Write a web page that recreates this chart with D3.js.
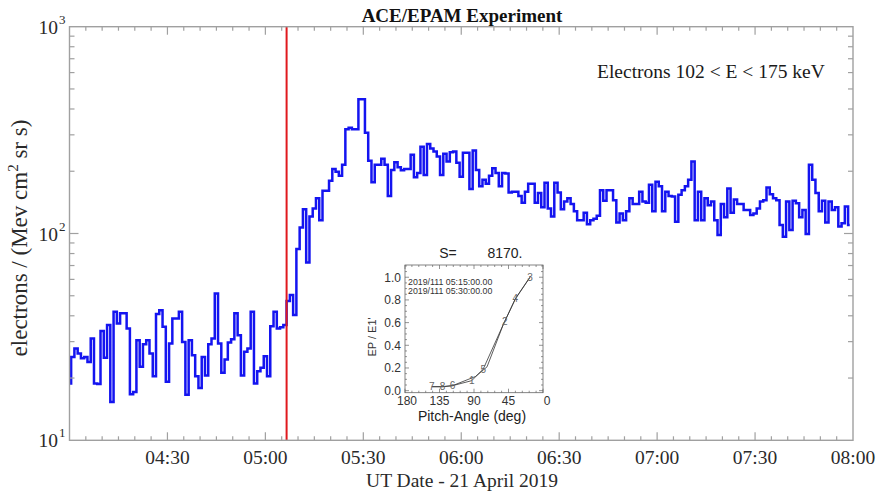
<!DOCTYPE html>
<html><head><meta charset="utf-8">
<script src="https://cdn.jsdelivr.net/npm/d3@7"></script>
<style>body{margin:0;background:#fff}svg{display:block}</style>
</head><body><svg id="c" width="876" height="492"></svg>
<script>
// ---------- data ----------
const chartTitle = "ACE/EPAM Experiment";
const channelLabel = "Electrons 102 < E < 175 keV";
const xAxisTitle = "UT Date - 21 April 2019";
const xTickLabels = ["04:30","05:00","05:30","06:00","06:30","07:00","07:30","08:00"];
const yTickExponents = [1, 2, 3];
const startTime = "2019-04-21T04:00:00Z";
const endTime = "2019-04-21T08:00:00Z";
const eventTime = "2019-04-21T05:06:30Z";
// 1-minute fluxes, electrons/(MeV cm2 sr s), starting 04:00 UT
const fluxPreEvent = [18.8,
 25.3, 27.8, 26.3, 24.9, 25.3, 23.9, 31.1, 18.8, 18.7, 33.8,
 25.1, 36.1, 15.3, 41.8, 36.7, 41.1, 41.1, 34.7, 16.7, 17.1,
 30.5, 22.7, 29.1, 30.5, 26.3, 20.4, 40.8, 42.6, 35.4, 19.2,
 29.4, 38.8, 38.8, 41.8, 29.9, 16.6, 30.5, 25.8, 20.4, 17.9,
 25.3, 20.6, 29.1, 31.1, 51.3, 29.4, 21.2, 24.6, 29.7, 30.8,
 41.1, 32.2, 20.6, 26.8, 27.8, 41.8, 18.8, 21.6, 22.4, 25.5,
 20.4, 35.6, 41.8, 34.7, 35.2, 36.1];
const fluxRise = [47.1, 50.4, 40.3, 84.1, 107, 131, 72.5, 121, 132, 148,
 116, 161, 161, 180, 205, 199, 190, 215, 319, 325, 319, 319, 446, 446, 307];
const fluxDecay = [
 225, 177, 215, 215, 230, 215, 152, 203, 221, 209,
 202, 205, 205, 240, 187, 196, 263, 192, 271, 258,
 249, 236, 192, 243, 223, 247, 249, 220, 188, 246,
 246, 164, 252, 203, 169, 182, 174, 190, 207, 196,
 169, 196, 195, 158, 159, 159, 152, 141, 159, 174,
 174, 141, 157, 134, 176, 132, 121, 176, 158, 131,
 143, 148, 139, 128, 116, 116, 126, 111, 116, 118,
 122, 162, 144, 162, 162, 145, 113, 125, 116, 128,
 148, 139, 139, 159, 143, 141, 172, 128, 178, 169,
 128, 159, 152, 151, 114, 154, 162, 169, 182, 223,
 116, 159, 116, 148, 137, 143, 116, 98.3, 139, 120,
 165, 126, 146, 139, 139, 130, 130, 123, 125, 132,
 143, 145, 167, 155, 148, 145, 110, 96.5, 143, 104,
 144, 140, 120, 130, 99.5, 215, 182, 157, 128, 144,
 113, 143, 130, 134, 108, 112, 135, 110];

// inset (pitch-angle distribution)
const insetTitle = ["S=", "8170."];
const insetDates = ["2019/111 05:15:00.00", "2019/111 05:30:00.00"];
const pitchTicks = [180, 135, 90, 45, 0];
const ratioTicks = [0.0, 0.2, 0.4, 0.6, 0.8, 1.0];
const sectorIds = [7, 8, 6, 1, 5, 2, 4, 3];
const pitchA = [145, 131, 118, 93, 78, 50, 36, 17];
const ratioA = [0.035, 0.035, 0.044, 0.088, 0.19, 0.61, 0.81, 1.0];
const pitchB = [145, 131, 118, 88, 73, 52, 36, 17];
const ratioB = [0.035, 0.035, 0.044, 0.125, 0.21, 0.58, 0.81, 1.0];

// ---------- drawing ----------
const svg = d3.select("#c");
svg.append("rect").attr("width",876).attr("height",492).attr("fill","#fff");
const SERIF = "'Liberation Serif','Times New Roman',serif";
const SANS = "'Liberation Sans',Arial,sans-serif";
const L = 69.5, R = 853, T = 26.7, B = 440.3;
const axisCol = "#a0a0a0";

const x = d3.scaleUtc().domain([new Date(startTime), new Date(endTime)]).range([L, R]);
const y = d3.scaleLog().domain([10, 1000]).range([B, T]);

const flux = fluxPreEvent.concat(fluxRise, fluxDecay);
const t0 = new Date(startTime).getTime();
const series = flux.map((v, i) => ({t: new Date(t0 + i * 60000), v}));

svg.append("clipPath").attr("id","pc").append("rect")
  .attr("x",L).attr("y",T).attr("width",R-L).attr("height",B-T);

// data line
svg.append("path").datum(series)
  .attr("clip-path","url(#pc)")
  .attr("fill","none").attr("stroke","#1414f0").attr("stroke-width",2.5)
  .attr("stroke-linejoin","miter")
  .attr("d", d3.line().x(d => x(d.t)).y(d => y(d.v)).curve(d3.curveStep));

// red event line
const ex = x(new Date(eventTime));
svg.append("line").attr("x1",ex).attr("x2",ex).attr("y1",T).attr("y2",B)
  .attr("stroke","#e0191e").attr("stroke-width",2);

// frame
svg.append("rect").attr("x",L).attr("y",T).attr("width",R-L).attr("height",B-T)
  .attr("fill","none").attr("stroke",axisCol).attr("stroke-width",1.4);

// x ticks (every 5 min, major every 30 min)
const xt = d3.utcMinute.every(5).range(new Date(t0 + 60000), new Date(endTime));
const tg = svg.append("g").attr("stroke",axisCol).attr("stroke-width",1.2);
xt.forEach(d => {
  const major = d.getUTCMinutes() % 30 === 0;
  const len = major ? 8 : 4;
  const px = x(d);
  tg.append("line").attr("x1",px).attr("x2",px).attr("y1",B).attr("y2",B-len);
  tg.append("line").attr("x1",px).attr("x2",px).attr("y1",T).attr("y2",T+len);
});
// y ticks (log)
[10,100].forEach(dec => {
  for (let k = 1; k <= 9; k++) {
    const v = dec * k;
    if (k === 1 && dec === 10) continue;
    const len = k === 1 ? 9 : 5;
    const py = y(v);
    tg.append("line").attr("x1",L).attr("x2",L+len).attr("y1",py).attr("y2",py);
    tg.append("line").attr("x1",R).attr("x2",R-len).attr("y1",py).attr("y2",py);
  }
});

// x tick labels
const xl = svg.append("g").attr("font-family",SERIF).attr("font-size",19.5)
  .attr("fill","#2a2a2a").attr("text-anchor","middle");
xTickLabels.forEach(s => {
  const [h, m] = s.split(":").map(Number);
  const d = new Date(Date.UTC(2019,3,21,h,m));
  xl.append("text").attr("x",x(d)).attr("y",464).text(s);
});
svg.append("text").attr("x",462).attr("y",487).attr("text-anchor","middle")
  .attr("font-family",SERIF).attr("font-size",19.5).attr("fill","#2a2a2a").text(xAxisTitle);

// y tick labels 10^n
yTickExponents.forEach(e => {
  const py = y(Math.pow(10, e));
  const g = svg.append("g").attr("font-family",SERIF).attr("fill","#2a2a2a");
  g.append("text").attr("x",58).attr("y",py+7).attr("text-anchor","end").attr("font-size",19.5).text("10");
  g.append("text").attr("x",59).attr("y",py-3).attr("font-size",13).text(String(e));
});

// y axis title
const yt = svg.append("text").attr("transform","translate(27,238) rotate(-90)")
  .attr("text-anchor","middle").attr("font-family",SERIF).attr("font-size",23).attr("fill","#2a2a2a");
yt.append("tspan").text("electrons / (Mev cm");
yt.append("tspan").attr("font-size",15).attr("dy",-9).text("2");
yt.append("tspan").attr("dy",9).text(" sr s)");

// title
svg.append("text").attr("x",462).attr("y",22).attr("text-anchor","middle")
  .attr("font-family",SERIF).attr("font-weight","bold").attr("font-size",19)
  .attr("fill","#111").text(chartTitle);
// channel annotation
svg.append("text").attr("x",597).attr("y",78)
  .attr("font-family",SERIF).attr("font-size",19.5).attr("fill","#1a1a1a").text(channelLabel);

// ---------- inset ----------
const iL = 405, iR = 543, iT = 265, iB = 392.7;
const xi = d3.scaleLinear().domain([180, 0]).range([iL, iR]);
const yi = d3.scaleLinear().domain([-0.018, 1.108]).range([iB, iT]);
const ig = svg.append("g");
ig.append("rect").attr("x",iL).attr("y",iT).attr("width",iR-iL).attr("height",iB-iT)
  .attr("fill","none").attr("stroke","#666").attr("stroke-width",0.8);
const itg = ig.append("g").attr("stroke","#666").attr("stroke-width",0.7);
d3.range(0, 181, 9).forEach(a => {
  const len = a % 45 === 0 ? 4 : 2;
  itg.append("line").attr("x1",xi(a)).attr("x2",xi(a)).attr("y1",iB).attr("y2",iB-len);
  itg.append("line").attr("x1",xi(a)).attr("x2",xi(a)).attr("y1",iT).attr("y2",iT+len);
});
d3.range(0, 1.101, 0.05).forEach(v => {
  const major = Math.abs(v/0.2 - Math.round(v/0.2)) < 1e-6;
  const len = major ? 4 : 2;
  itg.append("line").attr("x1",iL).attr("x2",iL+len).attr("y1",yi(v)).attr("y2",yi(v));
  itg.append("line").attr("x1",iR).attr("x2",iR-len).attr("y1",yi(v)).attr("y2",yi(v));
});
const itl = ig.append("g").attr("font-family",SANS).attr("font-size",12).attr("fill","#333");
pitchTicks.forEach(a => itl.append("text").attr("x",xi(a) + (a === 0 ? 4 : a === 180 ? 2 : 0)).attr("y",405).attr("text-anchor","middle").text(a));
ratioTicks.forEach(v => itl.append("text").attr("x",401).attr("y",yi(v)+4.3).attr("text-anchor","end").text(v.toFixed(1)));
ig.append("text").attr("x",472).attr("y",421).attr("text-anchor","middle")
  .attr("font-family",SANS).attr("font-size",14).attr("fill","#222").text("Pitch-Angle (deg)");
ig.append("text").attr("transform","translate(376,337) rotate(-90)").attr("text-anchor","middle")
  .attr("font-family",SANS).attr("font-size",11).attr("fill","#333").text("EP / E1'");
ig.append("text").attr("x",448).attr("y",258).attr("text-anchor","middle")
  .attr("font-family",SANS).attr("font-size",14).attr("fill","#222").text(insetTitle[0]);
ig.append("text").attr("x",505).attr("y",258).attr("text-anchor","middle")
  .attr("font-family",SANS).attr("font-size",14).attr("fill","#222").text(insetTitle[1]);
insetDates.forEach((s, i) => ig.append("text").attr("x",408).attr("y",285 + i*8.6)
  .attr("font-family",SANS).attr("font-size",8.8).attr("fill","#333").text(s));
const il = d3.line().x(d => xi(d[0])).y(d => yi(d[1]));
[[pitchA, ratioA],[pitchB, ratioB]].forEach(([p, r]) => {
  ig.append("path").datum(p.map((a, i) => [a, r[i]]))
    .attr("fill","none").attr("stroke","#333").attr("stroke-width",0.8).attr("d", il);
});
sectorIds.forEach((s, i) => ig.append("text").attr("x",xi(pitchA[i])).attr("y",yi(ratioA[i])+3.5)
  .attr("text-anchor","middle").attr("font-family",SANS).attr("font-size",10)
  .attr("fill","#666").text(s));
</script></body></html>
